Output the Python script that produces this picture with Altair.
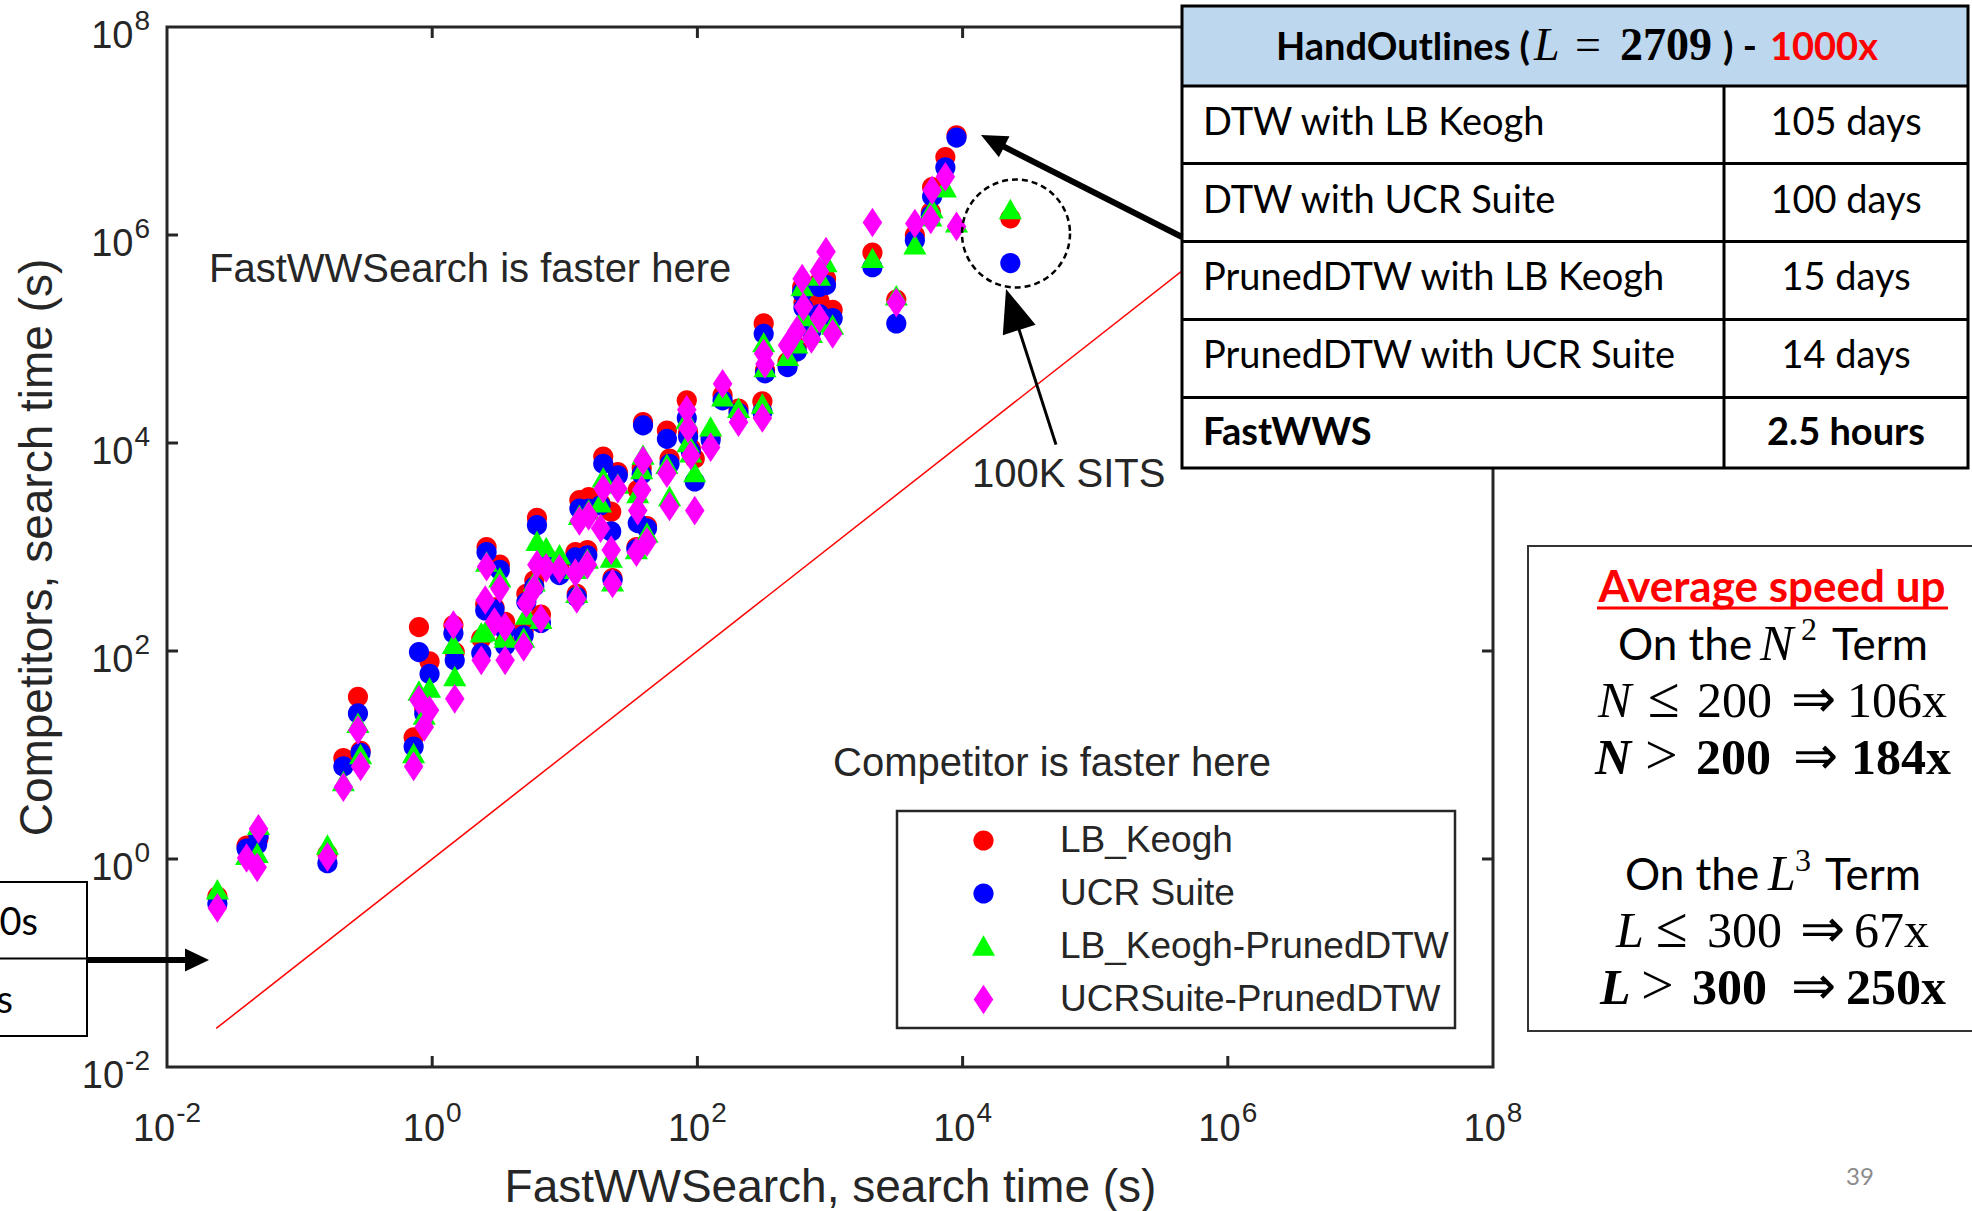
import altair as alt
import pandas as pd

# ---------------------------------------------------------------------------
# Search times per dataset, log10 of seconds.
# x: FastWWSearch; the four competitor lists share the same dataset order.
# ---------------------------------------------------------------------------
fastwws_log = [
    -1.62, -1.40, -1.32, -1.31, -0.79, -0.67, -0.56, -0.54, -0.14, -0.10,
    -0.06, -0.02, 0.16, 0.17, 0.37, 0.40, 0.41, 0.47, 0.51, 0.55,
    0.55, 0.69, 0.71, 0.77, 0.79, 0.82, 0.86, 0.96, 1.08, 1.09,
    1.11, 1.18, 1.17, 1.27, 1.29, 1.35, 1.36, 1.40, 1.54, 1.55,
    1.58, 1.59, 1.62, 1.77, 1.79, 1.92, 1.93, 1.95, 1.98, 2.10,
    2.19, 2.31, 2.49, 2.50, 2.51, 2.68, 2.75, 2.79, 2.80, 2.86,
    2.92, 2.92, 2.97, 3.02, 3.32, 3.50, 3.64, 3.76, 3.77, 3.87,
    4.36,
]
lb_keogh_log = [
    -0.36, 0.13, 0.18, 0.20, 0.05, 0.97, 1.56, 1.04, 1.17, 2.23,
    1.45, 1.90, 2.25, 1.99, 2.12, 2.45, 3.00, 2.42, 2.83, 2.28,
    2.08, 2.20, 2.55, 2.68, 3.28, 2.35, 2.90, 2.80, 2.95, 2.55,
    3.45, 3.48, 2.97, 3.42, 3.87, 3.34, 2.70, 3.72, 3.00, 3.55,
    3.76, 4.20, 3.20, 4.12, 3.85, 4.41, 4.10, 3.95, 3.85, 4.06,
    4.46, 4.33, 4.40, 5.15, 4.70, 4.78, 4.93, 5.50, 5.35, 5.10,
    5.37, 5.55, 5.58, 5.28, 5.83, 5.38, 6.00, 6.22, 6.46, 6.75,
    6.16,
]
ucr_suite_log = [
    -0.43, 0.10, 0.14, 0.22, -0.04, 0.89, 1.40, 1.02, 1.08, 1.99,
    1.40, 1.78, 2.17, 1.91, 1.98, 2.39, 2.95, 2.40, 2.78, 2.20,
    2.05, 2.15, 2.47, 2.62, 3.21, 2.27, 2.86, 2.73, 2.90, 2.52,
    3.37, 3.37, 2.92, 3.40, 3.80, 3.15, 2.68, 3.69, 2.98, 3.23,
    3.70, 4.17, 3.18, 4.04, 3.80, 4.24, 4.06, 3.92, 3.63, 4.03,
    4.41, 4.29, 4.30, 5.05, 4.67, 4.73, 4.88, 5.45, 5.30, 5.08,
    5.24, 5.50, 5.52, 5.20, 5.69, 5.15, 5.95, 6.19, 6.37, 6.65,
    5.73,
]
lbk_pruned_log = [
    -0.30, 0.03, 0.05, 0.32, 0.13, 0.74, 1.30, 1.00, 1.01, 1.61,
    1.38, 1.64, 2.06, 1.75, 2.17, 2.18, 2.85, 2.30, 2.70, 2.15,
    2.12, 2.12, 2.34, 2.66, 3.05, 2.30, 2.99, 2.92, 2.78, 2.55,
    3.30, 3.35, 2.88, 3.42, 3.66, 2.89, 2.66, 3.60, 2.97, 3.51,
    3.74, 3.88, 3.13, 3.79, 3.48, 4.22, 4.00, 3.90, 3.71, 4.15,
    4.44, 4.33, 4.37, 4.96, 4.72, 4.83, 4.95, 5.50, 5.21, 5.05,
    5.15, 5.60, 5.73, 5.13, 5.77, 5.41, 5.90, 6.17, 6.25, 6.45,
    6.24,
]
ucr_pruned_log = [
    -0.47, 0.01, -0.08, 0.29, 0.02, 0.69, 1.24, 0.89, 0.89, 1.53,
    1.27, 1.43, 2.25, 1.54, 1.91, 2.49, 2.81, 2.28, 2.60, 2.23,
    1.91, 2.04, 2.46, 2.60, 2.83, 2.31, 2.80, 2.79, 2.75, 2.50,
    3.25, 3.30, 2.83, 3.18, 3.56, 2.97, 2.65, 3.56, 2.95, 3.35,
    3.55, 3.83, 3.05, 3.71, 3.39, 4.32, 4.14, 3.88, 3.35, 3.96,
    4.57, 4.20, 4.24, 4.86, 4.76, 4.94, 5.08, 5.58, 5.31, 5.00,
    5.20, 5.65, 5.84, 5.05, 6.12, 5.35, 6.11, 6.15, 6.43, 6.56,
    None,
]

methods = ["LB_Keogh", "UCR Suite", "LB_Keogh-PrunedDTW", "UCRSuite-PrunedDTW"]
method_colors = ["#ff0000", "#0000ff", "#00ff00", "#ff00ff"]

# HandOutlines (L = 2709) timings, as listed in the table
table_rows = ["DTW with LB Keogh", "DTW with UCR Suite", "PrunedDTW with LB Keogh",
              "PrunedDTW with UCR Suite", "FastWWS"]
table_values = ["105 days", "100 days", "15 days", "14 days", "2.5 hours"]
handoutlines_days = [105, 100, 15, 14]
handoutlines_fastwws_hours = 2.5

diag_range = [0.0235, 1e8]
label_decades = [-2, 0, 2, 4, 6, 8]
tick_decades = [0, 2, 4, 6]

# ---------------------------------------------------------------------------
rows = []
for name, vals, days in zip(methods, [lb_keogh_log, ucr_suite_log, lbk_pruned_log, ucr_pruned_log],
                            handoutlines_days):
    for fx, cy in zip(fastwws_log, vals):
        if cy is None:
            continue
        rows.append({"x": 10.0 ** fx, "y": 10.0 ** cy, "method": name})
    rows.append({"x": handoutlines_fastwws_hours * 3600, "y": days * 86400, "method": name})
points_df = pd.DataFrame(rows)

# ---------------------------------------------------------------------------
W, H = 1326, 1040
LEFT, TOP = 167, 27
ONE = pd.DataFrame({"k": [0]})
SANS = "Liberation Sans"
SLIDE = "Lato"
SERIF = "Liberation Serif"
INK = "#262626"
MARK_SIZE = 880

xs = alt.Scale(type="log", domain=[1e-2, 1e8], nice=False)
ys = alt.Scale(type="log", domain=[1e-2, 1e8], nice=False)
x_axis = alt.Axis(title="FastWWSearch, search time (s)", labels=False, ticks=False, domain=False,
                  grid=False, titleFont=SANS, titleFontSize=46, titleFontWeight="normal",
                  titleColor=INK, titlePadding=134, titleBaseline="alphabetic")
y_axis = alt.Axis(title="Competitors, search time (s)", labels=False, ticks=False, domain=False,
                  grid=False, titleFont=SANS, titleFontSize=46, titleFontWeight="normal",
                  titleColor=INK, titlePadding=116, titleBaseline="alphabetic")


def X(f="x"):
    return alt.X(f"{f}:Q", scale=xs, axis=x_axis)


def Y(f="y"):
    return alt.Y(f"{f}:Q", scale=ys, axis=y_axis)


def txt(s, x, y, size, font=SLIDE, weight="normal", style="normal", color="#000000",
        align="left", baseline="alphabetic", angle=0):
    return alt.Chart(ONE).mark_text(
        text=s, font=font, fontSize=size, fontWeight=weight, fontStyle=style, color=color,
        align=align, baseline=baseline, angle=angle,
    ).encode(x=alt.value(x), y=alt.value(y))


def box(x0, y0, x1, y1, fill="#ffffff", stroke="#000000", sw=2.0):
    return alt.Chart(ONE).mark_rect(fill=fill, stroke=stroke, strokeWidth=sw).encode(
        x=alt.value(x0), x2=alt.value(x1), y=alt.value(y0), y2=alt.value(y1))


def seg(x0, y0, x1, y1, color="#000000", sw=3.0):
    return alt.Chart(ONE).mark_rule(color=color, strokeWidth=sw).encode(
        x=alt.value(x0), x2=alt.value(x1), y=alt.value(y0), y2=alt.value(y1))


def head(cx, cy, angle, path, size):
    return alt.Chart(ONE).mark_point(shape=path, size=size, angle=angle, filled=True,
                                     color="#000000", opacity=1, strokeWidth=0).encode(
        x=alt.value(cx), y=alt.value(cy))


def glyph_w(s, fs):
    return sum(0.333 if c == "-" else 0.556 for c in s) * fs


layers = []

# diagonal y = x
layers.append(
    alt.Chart(pd.DataFrame({"x": diag_range, "y": diag_range}))
    .mark_line(color="#ff0000", strokeWidth=1.5, clip=True)
    .encode(x=X(), y=Y())
)

# scatter of the four competitors
circle_path = "M-0.68,0A0.68,0.68,0,1,0,0.68,0A0.68,0.68,0,1,0,-0.68,0Z"
tri_path = "M0,-0.76L0.78,0.62L-0.78,0.62Z"
diamond_path = "M0,-1L0.66,0L0,1L-0.66,0Z"
legend = alt.Legend(title=None, orient="none", legendX=798, legendY=795, padding=0,
                    rowPadding=15, symbolOffset=0, labelOffset=58, labelFont=SANS,
                    labelFontSize=37, labelColor=INK, labelLimit=800, symbolSize=MARK_SIZE,
                    symbolStrokeWidth=0)
layers.append(
    alt.Chart(points_df)
    .mark_point(filled=True, size=MARK_SIZE, opacity=1, strokeWidth=0)
    .encode(
        x=X(), y=Y(),
        color=alt.Color("method:N", scale=alt.Scale(domain=methods, range=method_colors),
                        legend=legend),
        shape=alt.Shape("method:N",
                        scale=alt.Scale(domain=methods,
                                        range=[circle_path, circle_path, tri_path, diamond_path]),
                        legend=legend),
    )
)

# axes box and inward ticks
layers.append(alt.Chart(ONE).mark_rect(fillOpacity=0, stroke=INK, strokeWidth=3).encode(
    x=alt.value(0), x2=alt.value(W), y=alt.value(0), y2=alt.value(H)))
ticks_df = pd.DataFrame({"x": [10.0 ** d for d in tick_decades], "y": [10.0 ** d for d in tick_decades]})
tick = alt.Chart(ticks_df).mark_rule(color=INK, strokeWidth=3)
layers += [
    tick.encode(x=X(), y=alt.value(H), y2=alt.value(H - 11)),
    tick.encode(x=X(), y=alt.value(0), y2=alt.value(11)),
    tick.encode(y=Y(), x=alt.value(0), x2=alt.value(11)),
    tick.encode(y=Y(), x=alt.value(W), x2=alt.value(W - 11)),
]

# tick labels "10" with a raised exponent
BASE_FS, EXP_FS = 38, 28
for d in label_decades:
    e = str(d)
    w10, we = glyph_w("10", BASE_FS), glyph_w(e, EXP_FS)
    left = -(w10 + 1 + we) / 2
    dfx = pd.DataFrame({"x": [10.0 ** d]})
    layers.append(alt.Chart(dfx).mark_text(text="10", font=SANS, fontSize=BASE_FS, color=INK,
                                           align="right", baseline="alphabetic", dx=left + w10)
                  .encode(x=X(), y=alt.value(H + 74)))
    layers.append(alt.Chart(dfx).mark_text(text=e, font=SANS, fontSize=EXP_FS, color=INK,
                                           align="left", baseline="alphabetic", dx=left + w10 + 1)
                  .encode(x=X(), y=alt.value(H + 55)))
    dfy = pd.DataFrame({"y": [10.0 ** d]})
    layers.append(alt.Chart(dfy).mark_text(text="10", font=SANS, fontSize=BASE_FS, color=INK,
                                           align="right", baseline="alphabetic", dy=21)
                  .encode(y=Y(), x=alt.value(-17 - we - 1)))
    layers.append(alt.Chart(dfy).mark_text(text=e, font=SANS, fontSize=EXP_FS, color=INK,
                                           align="right", baseline="alphabetic", dy=3)
                  .encode(y=Y(), x=alt.value(-17)))

# region notes inside the axes
layers.append(txt("FastWWSearch is faster here", 42, 255, 40, font=SANS, color=INK))
layers.append(txt("Competitor is faster here", 666, 749, 40, font=SANS, color=INK))
layers.append(txt("100K SITS", 805, 460, 40, font=SANS, color=INK))

# dashed ring around the 100K SITS dataset and its pointer
layers.append(alt.Chart(ONE).mark_point(shape="circle", size=108 ** 2, filled=False, color="#000000",
                                        strokeWidth=2.5, strokeDash=[6, 4], opacity=1)
              .encode(x=alt.value(849), y=alt.value(206.5)))
layers.append(seg(889, 417.6, 845.6, 282.5, sw=3))
layers.append(head(845.6, 282.5, 342.2, "M0,-1L0.8,1L-0.8,1Z", 1849))

# legend frame
layers.append(box(730, 784, 1288, 1001, fill="#ffffff", stroke=INK, sw=2.5))

# HandOutlines table
TX0, TX1, TCOL = 1015, 1801, 1557
row_lines = [59, 136.5, 214.5, 292.5, 370.4]
layers.append(box(TX0, -21, TX1, 59, fill="#bdd7ee", stroke="#000000", sw=0))
layers.append(box(TX0, 59, TX1, 441, fill="#ffffff", stroke="#000000", sw=0))
for yl in row_lines:
    layers.append(seg(TX0, yl, TX1, yl, sw=3))
layers.append(seg(TCOL, 59, TCOL, 441, sw=3))
layers.append(alt.Chart(ONE).mark_rect(fillOpacity=0, stroke="#000000", strokeWidth=3).encode(
    x=alt.value(TX0), x2=alt.value(TX1), y=alt.value(-21), y2=alt.value(441)))
layers += [
    txt("HandOutlines (", 1109, 33, 38, weight="bold"),
    txt("L", 1367, 33, 46, font=SERIF, style="italic"),
    txt("=", 1408, 33, 46, font=SERIF),
    txt("2709", 1453, 33, 46, font=SERIF, weight="bold"),
    txt(") -", 1556, 33, 38, weight="bold"),
    txt("1000x", 1603, 33, 38, weight="bold", color="#ff0000"),
]
row_base = [108, 186, 263, 341, 418]
for i, (name, val) in enumerate(zip(table_rows, table_values)):
    wgt = "bold" if i == len(table_rows) - 1 else "normal"
    layers.append(txt(name, 1036, row_base[i], 38, weight=wgt))
    layers.append(txt(val, 1679, row_base[i], 38, weight=wgt, align="center"))

# pointer from the table to the HandOutlines points
layers.append(seg(1015, 210, 825.6, 113.9, sw=6))
layers.append(head(825.6, 113.9, 296.9, "M0,-1L0.9,1L-0.9,1Z", 676))

# average speed-up panel
layers.append(box(1361, 519, 1820, 1004, fill="#ffffff", stroke="#333333", sw=2))
layers.append(txt("Average speed up", 1605, 575, 44, weight="bold", color="#ff0000", align="center"))
layers.append(seg(1430, 581, 1781, 581, color="#ff0000", sw=3))
NUM, REL, ARR = 50, 58, 54
speed_tokens = [
    # (text, x, baseline, font, size, weight, style)
    ("On the", 1451, 633, SLIDE, 44, "normal", "normal"),
    ("N", 1593, 633, SERIF, NUM, "normal", "italic"),
    ("2", 1634, 613, SERIF, 32, "normal", "normal"),
    ("Term", 1665, 633, SLIDE, 44, "normal", "normal"),
    ("N", 1431, 690, SERIF, NUM, "normal", "italic"),
    ("\u2264", 1481, 690, SERIF, REL, "normal", "normal"),
    ("200", 1530, 690, SERIF, NUM, "normal", "normal"),
    ("\u21d2", 1624, 690, SERIF, ARR, "normal", "normal"),
    ("106x", 1680, 690, SERIF, NUM, "normal", "normal"),
    ("N", 1428, 747, SERIF, NUM, "bold", "italic"),
    (">", 1478, 747, SERIF, REL, "normal", "normal"),
    ("200", 1529, 747, SERIF, NUM, "bold", "normal"),
    ("\u21d2", 1626, 747, SERIF, ARR, "normal", "normal"),
    ("184x", 1684, 747, SERIF, NUM, "bold", "normal"),
    ("On the", 1458, 863, SLIDE, 44, "normal", "normal"),
    ("L", 1601, 863, SERIF, NUM, "normal", "italic"),
    ("3", 1628, 844, SERIF, 32, "normal", "normal"),
    ("Term", 1658, 863, SLIDE, 44, "normal", "normal"),
    ("L", 1449, 920, SERIF, NUM, "normal", "italic"),
    ("\u2264", 1489, 920, SERIF, REL, "normal", "normal"),
    ("300", 1540, 920, SERIF, NUM, "normal", "normal"),
    ("\u21d2", 1633, 920, SERIF, ARR, "normal", "normal"),
    ("67x", 1687, 920, SERIF, NUM, "normal", "normal"),
    ("L", 1433, 977, SERIF, NUM, "bold", "italic"),
    (">", 1474, 977, SERIF, REL, "normal", "normal"),
    ("300", 1525, 977, SERIF, NUM, "bold", "normal"),
    ("\u21d2", 1624, 977, SERIF, ARR, "normal", "normal"),
    ("250x", 1679, 977, SERIF, NUM, "bold", "normal"),
]
for s, x, y, f, fs, wgt, sty in speed_tokens:
    layers.append(txt(s, x, y, fs, font=f, weight=wgt, style=sty))

# box at the left edge and its arrow into the axes
layers.append(box(-175, 855, -80, 1009, fill="#ffffff", stroke="#000000", sw=2))
layers.append(seg(-175, 931.6, -80, 931.6, sw=2))
layers.append(txt("0s", -129, 908, 38, align="right"))
layers.append(txt("s", -154, 986, 38, align="right"))
layers.append(seg(-80, 933, 31, 933, sw=6))
layers.append(head(30, 933, 90, "M0,-1L0.95,1L-0.95,1Z", 576))

# slide number
layers.append(txt("39", 1693, 1158, 24, color="#8c8c8c", align="center"))

chart = (
    alt.layer(*layers)
    .properties(
        width=W, height=H,
        padding={"left": LEFT, "top": TOP, "right": 1972 - LEFT - W, "bottom": 1211 - TOP - H},
        autosize=alt.AutoSizeParams(type="none"),
    )
    .configure_view(stroke=None)
)

chart.save("out.html", embed_options={"renderer": "svg", "actions": False})
